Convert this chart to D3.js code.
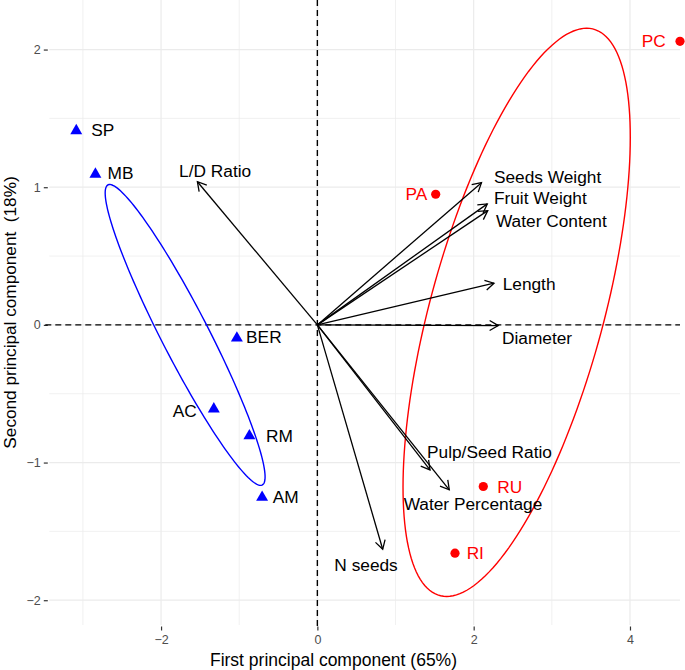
<!DOCTYPE html>
<html>
<head>
<meta charset="utf-8">
<script src="https://cdn.jsdelivr.net/npm/d3@7"></script>
<style>
  html, body { margin: 0; padding: 0; background: #fff; }
  svg { display: block; font-family: "Liberation Sans", Arial, Helvetica, sans-serif; }
</style>
</head>
<body>
<svg id="chart" width="685" height="670"></svg>
<script>
// ---- Data ----
const sampleNames = ["SP", "MB", "BER", "AC", "RM", "AM", "PC", "PA", "RU", "RI"];
const sampleGroup = ["B", "B", "B", "B", "B", "B", "R", "R", "R", "R"];
const samplePC1 = [-3.085, -2.84, -1.03, -1.325, -0.87, -0.707, 4.64, 1.514, 2.123, 1.761];
const samplePC2 = [1.416, 1.10, -0.09, -0.605, -0.80, -1.247, 2.06, 0.949, -1.174, -1.658];
const sampleLabelX = [-2.894, -2.685, -0.912, -1.542, -0.656, -0.570, 4.459, 1.407, 2.302, 1.910];
const sampleLabelY = [1.416, 1.104, -0.087, -0.625, -0.806, -1.247, 2.062, 0.949, -1.174, -1.658];
const sampleLabelAnchor = ["start", "start", "start", "end", "start", "start", "end", "end", "start", "start"];

const varNames = ["L/D Ratio", "Seeds Weight", "Fruit Weight", "Water Content", "Length", "Diameter", "Pulp/Seed Ratio", "Water Percentage", "N seeds"];
const varPC1 = [-1.535, 2.10, 2.174, 2.18, 2.26, 2.315, 1.441, 1.688, 0.836];
const varPC2 = [1.04, 1.033, 0.879, 0.83, 0.303, -0.005, -1.053, -1.198, -1.63];
const varLabelX = [-1.308, 2.259, 2.259, 2.285, 2.371, 2.362, 2.202, 1.991, 0.623];
const varLabelY = [1.118, 1.075, 0.922, 0.755, 0.298, -0.094, -0.922, -1.30, -1.745];
const varLabelAnchor = ["middle", "start", "start", "start", "start", "start", "middle", "middle", "middle"];

// Confidence ellipses: centre and two semi-axis vectors (data units)
const ellipseGroups = ["B", "R"];
const ellipseCX = [-1.692, 2.55];
const ellipseCY = [-0.073, 0.091];
const ellipseUX = [1.023, 1.454];
const ellipseUY = [-1.031, 1.271];
const ellipseVX = [0, 0];
const ellipseVY = [0.362, 1.626];

const xTicks = [-2, 0, 2, 4];
const yTicks = [-2, -1, 0, 1, 2];
const xMinor = [-3, -1, 1, 3];
const yMinor = [-1.5, -0.5, 0.5, 1.5];
const xTitle = "First principal component (65%)";
const yTitle = "Second principal component\u00a0\u00a0(18%)";

// ---- Layout ----
const panel = { left: 49.3, right: 680, top: 0, bottom: 625 };
const groupColor = { B: "#0000ff", R: "#ff0000" };

const svg = d3.select("#chart");
const x = d3.scaleLinear().domain([-3.43, 4.64]).range([panel.left, panel.right]);
const y = d3.scaleLinear().domain([-2.18, 2.36]).range([panel.bottom, panel.top]);

// Grid
const grid = svg.append("g");
grid.selectAll(".xminor").data(xMinor).join("line")
  .attr("x1", d => x(d)).attr("x2", d => x(d))
  .attr("y1", panel.top).attr("y2", panel.bottom)
  .attr("stroke", "#ebebeb").attr("stroke-width", 0.7);
grid.selectAll(".yminor").data(yMinor).join("line")
  .attr("y1", d => y(d)).attr("y2", d => y(d))
  .attr("x1", panel.left).attr("x2", panel.right)
  .attr("stroke", "#ebebeb").attr("stroke-width", 0.7);
grid.selectAll(".xmajor").data(xTicks).join("line")
  .attr("x1", d => x(d)).attr("x2", d => x(d))
  .attr("y1", panel.top).attr("y2", panel.bottom)
  .attr("stroke", "#ebebeb").attr("stroke-width", 1.2);
grid.selectAll(".ymajor").data(yTicks).join("line")
  .attr("y1", d => y(d)).attr("y2", d => y(d))
  .attr("x1", panel.left).attr("x2", panel.right)
  .attr("stroke", "#ebebeb").attr("stroke-width", 1.2);

// Axes (ticks + labels) via d3 axes
const fmt = d => d3.format("")(d).replace("-", "\u2212");
const xAxis = svg.append("g").attr("transform", `translate(0,${panel.bottom + 1.5})`)
  .call(d3.axisBottom(x).tickValues(xTicks).tickSize(4).tickPadding(5).tickFormat(fmt));
const yAxis = svg.append("g").attr("transform", `translate(${panel.left - 1.5},0)`)
  .call(d3.axisLeft(y).tickValues(yTicks).tickSize(4).tickPadding(3).tickFormat(fmt));
[xAxis, yAxis].forEach(a => {
  a.select(".domain").remove();
  a.selectAll(".tick line").attr("stroke", "#333333").attr("stroke-width", 1.2);
  a.selectAll(".tick text").attr("fill", "#4d4d4d").style("font-size", "12.5px")
    .style("font-family", "'Liberation Sans', Arial, sans-serif");
});

// Zero reference lines
svg.append("line").attr("x1", panel.left - 4).attr("x2", panel.right)
  .attr("y1", y(0)).attr("y2", y(0))
  .attr("stroke", "#000").attr("stroke-width", 1.4).attr("stroke-dasharray", "6,4");
svg.append("line").attr("x1", x(0)).attr("x2", x(0))
  .attr("y1", panel.top).attr("y2", panel.bottom + 5)
  .attr("stroke", "#000").attr("stroke-width", 1.4).attr("stroke-dasharray", "6,4");

// Ellipses
const ellLine = d3.line().x(p => x(p[0])).y(p => y(p[1])).curve(d3.curveLinearClosed);
ellipseGroups.forEach((g, i) => {
  const pts = d3.range(0, 360, 2).map(deg => {
    const t = deg * Math.PI / 180;
    return [ellipseCX[i] + ellipseUX[i] * Math.cos(t) + ellipseVX[i] * Math.sin(t),
            ellipseCY[i] + ellipseUY[i] * Math.cos(t) + ellipseVY[i] * Math.sin(t)];
  });
  svg.append("path").attr("d", ellLine(pts)).attr("fill", "none")
    .attr("stroke", groupColor[g]).attr("stroke-width", 1.4);
});

// Variable arrows
const arrows = svg.append("g");
varNames.forEach((name, i) => {
  const x0 = x(0), y0 = y(0), x1 = x(varPC1[i]), y1 = y(varPC2[i]);
  const ang = Math.atan2(y1 - y0, x1 - x0);
  const hl = 10, ha = Math.PI / 6;
  arrows.append("line").attr("x1", x0).attr("y1", y0).attr("x2", x1).attr("y2", y1)
    .attr("stroke", "#000").attr("stroke-width", 1.3);
  const p1 = [x1 - hl * Math.cos(ang - ha), y1 - hl * Math.sin(ang - ha)];
  const p2 = [x1 - hl * Math.cos(ang + ha), y1 - hl * Math.sin(ang + ha)];
  arrows.append("path").attr("d", `M${p1[0]},${p1[1]}L${x1},${y1}L${p2[0]},${p2[1]}`)
    .attr("fill", "none").attr("stroke", "#000").attr("stroke-width", 1.3);
  arrows.append("text").attr("x", x(varLabelX[i])).attr("y", y(varLabelY[i]))
    .attr("dy", "0.36em").attr("text-anchor", varLabelAnchor[i])
    .style("font-size", "17.3px").attr("fill", "#000").text(name);
});

// Sample points
const pts = svg.append("g");
const tri = d3.symbol().type(d3.symbolTriangle).size(62);
sampleNames.forEach((name, i) => {
  const g = sampleGroup[i];
  const px = x(samplePC1[i]), py = y(samplePC2[i]);
  if (g === "B") {
    pts.append("path").attr("d", tri).attr("transform", `translate(${px},${py + 0.8})`)
      .attr("fill", groupColor[g]);
  } else {
    pts.append("circle").attr("cx", px).attr("cy", py).attr("r", 4.6).attr("fill", groupColor[g]);
  }
  pts.append("text").attr("x", x(sampleLabelX[i])).attr("y", y(sampleLabelY[i]))
    .attr("dy", "0.36em").attr("text-anchor", sampleLabelAnchor[i])
    .style("font-size", "17.3px").attr("fill", g === "B" ? "#000" : groupColor[g]).text(name);
});

// Axis titles
svg.append("text").attr("x", 333.5).attr("y", 666).attr("text-anchor", "middle")
  .style("font-size", "17.5px").attr("fill", "#000").text(xTitle);
svg.append("text").attr("transform", `translate(15.5,${(panel.top + panel.bottom) / 2}) rotate(-90)`)
  .attr("text-anchor", "middle").style("font-size", "17.2px").attr("fill", "#000").text(yTitle);
</script>
</body>
</html>
